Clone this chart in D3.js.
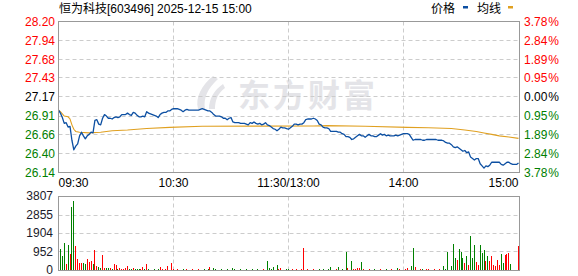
<!DOCTYPE html>
<html>
<head>
<meta charset="utf-8">
<script src="https://cdn.jsdelivr.net/npm/d3@7"></script>
<style>
  html, body { margin: 0; padding: 0; background: #fff; }
  svg { display: block; font-family: "Liberation Sans", Arial, "Noto Sans CJK SC", sans-serif; }
</style>
</head>
<body>
<svg id="chart"></svg>
<script>
const stockName = '恒为科技';
const stockCode = '603496';
const stampText = '2025-12-15 15:00';
const prevClose = 27.17;

const priceTicks = [28.20, 27.94, 27.68, 27.43, 27.17, 26.91, 26.66, 26.40, 26.14];
const pctLabels = ['3.78', '2.84', '1.89', '0.95', '0.00', '0.95', '1.89', '2.84', '3.78'];
const volumeTicks = [3807, 2855, 1904, 952, 0];
const timeLabels = ['09:30', '10:30', '11:30/13:00', '14:00', '15:00'];
const timeMinutes = [0, 60, 120, 180, 240];
const legendNames = ['价格', '均线'];

// one price per minute, 09:30 .. 15:00 (241 points)
const prices = [
  26.99, 26.95, 26.89, 26.81, 26.82, 26.76, 26.77, 26.58, 26.45, 26.50,
  26.53, 26.64, 26.69, 26.64, 26.60, 26.64, 26.66, 26.69, 26.68, 26.85,
  26.86, 26.80, 26.79, 26.88, 26.93, 26.91, 26.88, 26.88, 26.87, 26.89,
  26.90, 26.89, 26.90, 26.93, 26.93, 26.93, 26.95, 26.93, 26.92, 26.96,
  26.95, 26.92, 26.90, 26.90, 26.91, 26.90, 26.97, 26.95, 26.94, 26.93,
  26.92, 26.91, 26.89, 26.93, 26.95, 26.96, 26.96, 26.98, 26.98, 27.00,
  27.01, 27.01, 27.01, 27.00, 26.99, 26.97, 26.99, 27.00, 26.99, 26.99,
  26.99, 26.99, 26.99, 26.99, 27.00, 27.01, 27.00, 26.99, 26.98, 26.98,
  26.96, 26.93, 26.91, 26.91, 26.91, 26.90, 26.88, 26.88, 26.86, 26.88,
  26.89, 26.83, 26.82, 26.82, 26.82, 26.81, 26.81, 26.81, 26.80, 26.79,
  26.82, 26.81, 26.83, 26.81, 26.80, 26.81, 26.79, 26.80, 26.82, 26.79,
  26.78, 26.76, 26.74, 26.73, 26.71, 26.73, 26.76, 26.75, 26.75, 26.74,
  26.73, 26.75, 26.77, 26.80, 26.80, 26.79, 26.80, 26.80, 26.82, 26.86,
  26.87, 26.87, 26.87, 26.88, 26.87, 26.85, 26.80, 26.79, 26.76, 26.75,
  26.75, 26.74, 26.70, 26.70, 26.70, 26.70, 26.69, 26.69, 26.67, 26.66,
  26.63, 26.63, 26.62, 26.59, 26.60, 26.62, 26.64, 26.66, 26.64, 26.64,
  26.62, 26.64, 26.66, 26.64, 26.64, 26.63, 26.63, 26.65, 26.67, 26.65,
  26.66, 26.64, 26.65, 26.64, 26.64, 26.64, 26.65, 26.64, 26.65, 26.66,
  26.67, 26.67, 26.67, 26.66, 26.62, 26.58, 26.59, 26.59, 26.59, 26.59,
  26.58, 26.58, 26.59, 26.59, 26.59, 26.59, 26.59, 26.59, 26.58, 26.58,
  26.58, 26.57, 26.55, 26.54, 26.54, 26.52, 26.49, 26.48, 26.49, 26.47,
  26.45, 26.43, 26.44, 26.41, 26.42, 26.35, 26.33, 26.31, 26.33, 26.33,
  26.26, 26.23, 26.20, 26.23, 26.22, 26.24, 26.28, 26.28, 26.28, 26.28,
  26.28, 26.25, 26.24, 26.26, 26.28, 26.28, 26.26, 26.25, 26.25, 26.25,
  26.27
];

// traded lots per minute
const volumes = [
  1500, 1100, 740, 1410, 360, 1310, 830, 3260, 3550, 1260,
  580, 410, 410, 410, 360, 580, 440, 500, 310, 1050,
  220, 190, 140, 790, 110, 110, 110, 110, 80, 310,
  280, 60, 120, 90, 90, 120, 230, 60, 60, 120,
  90, 60, 60, 60, 190, 60, 330, 60, 40, 50,
  60, 40, 60, 190, 60, 50, 60, 230, 50, 390,
  60, 50, 60, 40, 50, 70, 40, 60, 50, 40,
  60, 50, 40, 60, 50, 40, 60, 50, 70, 190,
  50, 120, 60, 40, 50, 60, 40, 50, 60, 40,
  50, 140, 60, 40, 50, 60, 50, 40, 60, 50,
  40, 60, 50, 40, 60, 50, 40, 60, 50, 480,
  110, 60, 160, 50, 270, 60, 150, 50, 40, 60,
  90, 40, 60, 50, 60, 40, 50, 60, 1170, 50,
  60, 40, 50, 60, 40, 50, 60, 50, 60, 50,
  40, 60, 160, 50, 40, 60, 200, 50, 80, 50,
  960, 120, 50, 480, 80, 80, 150, 150, 440, 60,
  50, 40, 60, 50, 40, 60, 50, 40, 60, 50,
  40, 60, 50, 40, 60, 50, 40, 150, 60, 50,
  40, 60, 150, 50, 250, 1170, 200, 40, 40, 80,
  60, 50, 80, 60, 40, 50, 60, 40, 50, 60,
  50, 240, 80, 960, 40, 250, 1360, 620, 530, 1100,
  960, 650, 410, 755, 270, 1770, 650, 1310, 450, 260,
  1310, 880, 1050, 470, 740, 470, 740, 270, 240, 530,
  260, 840, 380, 790, 840, 890, 330, 40, 0, 0,
  1260
];

// average price line, read at its turning points
const avgMinutes = [0, 1, 3, 5, 6, 7, 8, 9, 11, 16, 22, 28, 36, 46, 58, 75, 133, 140, 160, 182, 193, 205, 212, 218, 222, 226, 230, 235, 240];
const avgValues = [26.99, 26.97, 26.91, 26.90, 26.87, 26.79, 26.73, 26.70, 26.69, 26.68, 26.69, 26.71, 26.72, 26.74, 26.755, 26.77, 26.775, 26.78, 26.77, 26.755, 26.75, 26.74, 26.72, 26.70, 26.68, 26.66, 26.64, 26.625, 26.605];

const UP = '#ff0000';
const DOWN = '#008000';
const FLAT = '#000000';

class MinuteChart {
    constructor(svgSelector) {
        this.svg = d3.select(svgSelector).attr('width', 578).attr('height', 276);

        this.left = 58.5;
        this.right = 519.5;
        this.priceTop = 21.5;
        this.priceBottom = 172.5;
        this.volTop = 196.5;
        this.volBottom = 270.5;

        this.x = d3.scaleLinear().domain([0, 240]).range([58.5, 518.5]);
        this.y = d3.scaleLinear().domain([26.14, 28.20]).range([this.priceBottom, this.priceTop]);
        this.yVol = d3.scaleLinear().domain([0, 3807]).range([this.volBottom, this.volTop]);
    }

    colorFor(v) {
        if (v > prevClose + 1e-9) return UP;
        if (v < prevClose - 1e-9) return DOWN;
        return FLAT;
    }

    snap(v) {
        return Math.round(v - 0.5) + 0.5;
    }

    render() {
        this.drawWatermark();
        this.drawGrid();
        this.drawVolumes();
        this.drawLines();
        this.drawFrames();
        this.drawLabels();
        this.drawHeader();
    }

    drawWatermark() {
        const g = this.svg.append('g').attr('fill', '#e4e4e8');
        g.append('path').attr('d', 'M213,76 C202,85 195,97 198,109 L205,109 C203,98 208,88 218,79 Z');
        g.append('path').attr('d', 'M223,84 C214,90 209,99 209,109 L215,109 C215,100 218,93 225,88 Z');
        g.append('text')
            .attr('x', 238)
            .attr('y', 107)
            .attr('font-family', '"Noto Sans CJK SC", sans-serif')
            .attr('font-size', 32)
            .attr('font-weight', 'bold')
            .attr('letter-spacing', 3)
            .text('东方财富');
    }

    drawGrid() {
        const g = this.svg.append('g')
            .attr('stroke', '#cccccc')
            .attr('stroke-width', 1)
            .attr('stroke-dasharray', '4,3')
            .attr('fill', 'none');

        const innerPrice = priceTicks.slice(1, -1);
        g.selectAll('line.ph')
            .data(innerPrice)
            .enter()
            .append('line')
            .attr('x1', this.left).attr('x2', this.right)
            .attr('y1', d => this.snap(this.y(d)))
            .attr('y2', d => this.snap(this.y(d)));

        const innerVol = volumeTicks.slice(1, -1);
        g.selectAll('line.vh')
            .data(innerVol)
            .enter()
            .append('line')
            .attr('x1', this.left).attr('x2', this.right)
            .attr('y1', d => this.snap(this.yVol(d)))
            .attr('y2', d => this.snap(this.yVol(d)));

        const innerTime = timeMinutes.slice(1, -1);
        [[this.priceTop, this.priceBottom], [this.volTop, this.volBottom]].forEach(([t, b]) => {
            g.selectAll(null)
                .data(innerTime)
                .enter()
                .append('line')
                .attr('x1', d => this.snap(this.x(d)))
                .attr('x2', d => this.snap(this.x(d)))
                .attr('y1', t).attr('y2', b);
        });
    }

    drawVolumes() {
        this.svg.append('g')
            .selectAll('rect')
            .data(volumes)
            .enter()
            .append('rect')
            .attr('x', (d, i) => Math.floor(this.x(i)))
            .attr('width', 1)
            .attr('y', d => Math.round(this.yVol(d)))
            .attr('height', d => Math.max(0, 270 - Math.round(this.yVol(d))))
            .attr('fill', (d, i) => {
                const before = i === 0 ? prevClose : prices[i - 1];
                return prices[i] >= before ? UP : DOWN;
            });
    }

    drawLines() {
        const avgLine = d3.line()
            .x(d => this.x(d[0]))
            .y(d => this.y(d[1]));
        this.svg.append('path')
            .datum(d3.zip(avgMinutes, avgValues))
            .attr('d', avgLine)
            .attr('fill', 'none')
            .attr('stroke', '#e0a020')
            .attr('stroke-width', 1.1);

        const priceLine = d3.line()
            .x((d, i) => this.x(i))
            .y(d => this.y(d));
        this.svg.append('path')
            .datum(prices)
            .attr('d', priceLine)
            .attr('fill', 'none')
            .attr('stroke', '#0c4fa2')
            .attr('stroke-width', 1.3)
            .attr('stroke-linejoin', 'round');
    }

    drawFrames() {
        const g = this.svg.append('g').attr('fill', 'none').attr('stroke', '#999').attr('stroke-width', 1);
        g.append('rect')
            .attr('x', this.left).attr('y', this.priceTop)
            .attr('width', this.right - this.left).attr('height', this.priceBottom - this.priceTop);
        g.append('rect')
            .attr('x', this.left).attr('y', this.volTop)
            .attr('width', this.right - this.left).attr('height', this.volBottom - this.volTop);
    }

    drawLabels() {
        const g = this.svg.append('g').attr('font-size', '12px');

        // price axis, left
        g.selectAll('text.pl')
            .data(priceTicks)
            .enter()
            .append('text')
            .attr('x', 55)
            .attr('y', d => this.y(d))
            .attr('dy', '0.36em')
            .attr('text-anchor', 'end')
            .attr('fill', d => this.colorFor(d))
            .text(d => d.toFixed(2));

        // percent axis, right
        const pct = g.selectAll('text.pr')
            .data(priceTicks)
            .enter()
            .append('text')
            .attr('x', 524)
            .attr('y', d => this.y(d))
            .attr('dy', '0.36em')
            .attr('fill', d => this.colorFor(d));
        pct.append('tspan').text((d, i) => pctLabels[i]);
        pct.append('tspan').attr('dx', 1).text('%');

        // volume axis
        g.selectAll('text.vl')
            .data(volumeTicks)
            .enter()
            .append('text')
            .attr('x', 53)
            .attr('y', d => this.yVol(d))
            .attr('dy', '0.3em')
            .attr('text-anchor', 'end')
            .attr('fill', '#1a1a2a')
            .text(d => d);

        // time axis
        g.selectAll('text.tl')
            .data(timeMinutes)
            .enter()
            .append('text')
            .attr('x', (d, i) => i === timeMinutes.length - 1 ? this.right - 1 : (i === 0 ? this.left : this.x(d)))
            .attr('y', 186.5)
            .attr('text-anchor', (d, i) => i === 0 ? 'start' : (i === timeMinutes.length - 1 ? 'end' : 'middle'))
            .attr('fill', '#000')
            .text((d, i) => timeLabels[i]);
    }

    drawHeader() {
        const g = this.svg.append('g').attr('font-size', '12px').attr('fill', '#000');
        g.append('text')
            .attr('x', 59)
            .attr('y', 13)
            .text(`${stockName}[${stockCode}] ${stampText}`);

        g.append('text').attr('x', 431).attr('y', 13).text(legendNames[0]);
        g.append('rect').attr('x', 463).attr('y', 6).attr('width', 5).attr('height', 2.5).attr('fill', '#0c4fa2');
        g.append('text').attr('x', 477).attr('y', 13).text(legendNames[1]);
        g.append('rect').attr('x', 508).attr('y', 6).attr('width', 5).attr('height', 2.5).attr('fill', '#e0a020');
    }
}

const chart = new MinuteChart('#chart');
chart.render();
</script>
</body>
</html>
